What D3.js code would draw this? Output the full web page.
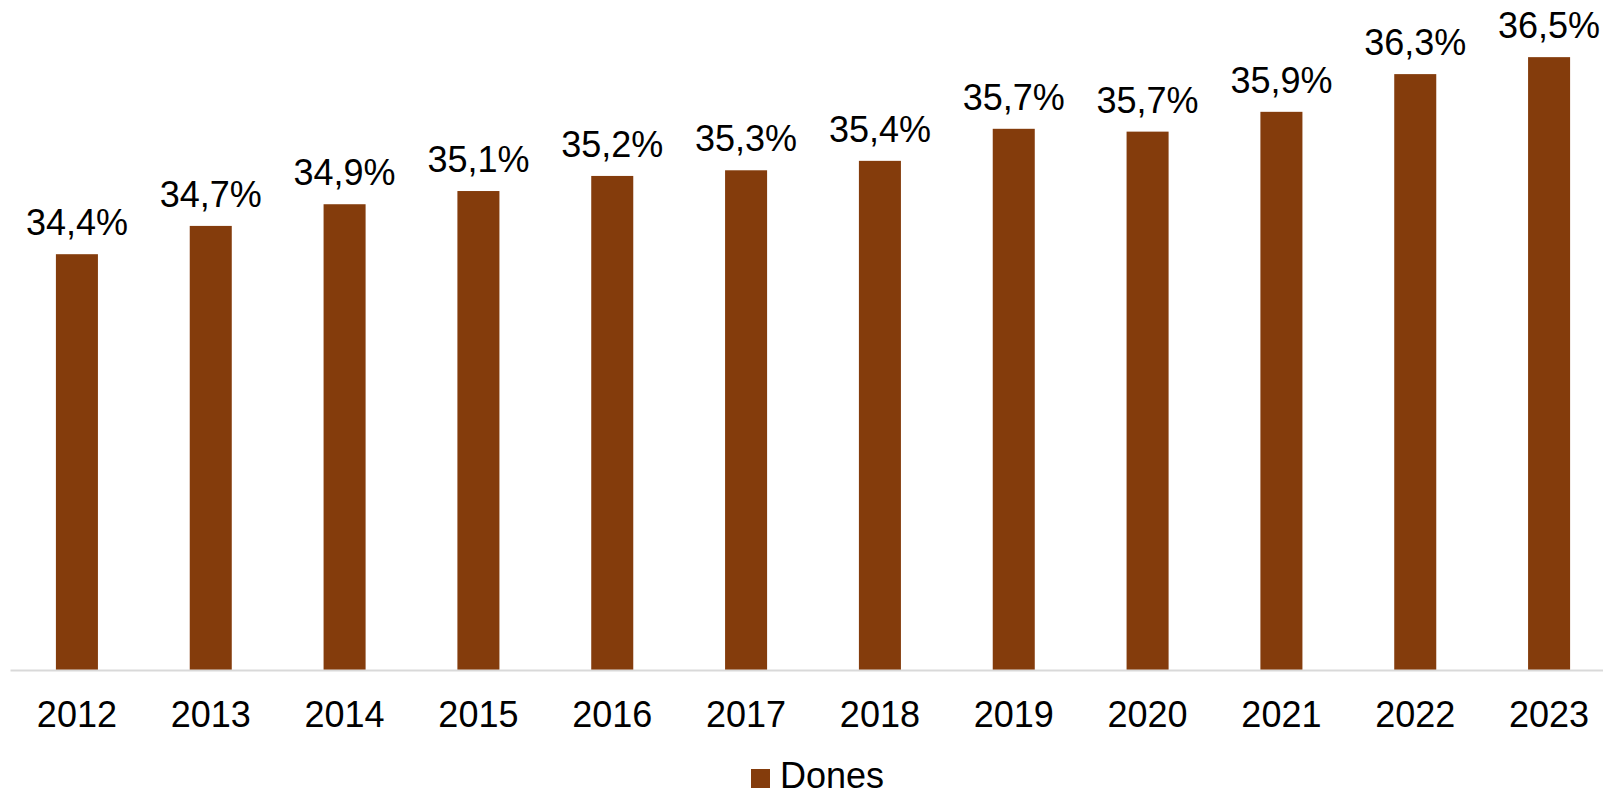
<!DOCTYPE html>
<html>
<head>
<meta charset="utf-8">
<script src="https://cdn.jsdelivr.net/npm/d3@7"></script>
<style>
  html, body { margin: 0; padding: 0; background: #fff; overflow: hidden; }
  svg { display: block; }
  text { font-family: "Liberation Sans", Arial, sans-serif; fill: #000; }
</style>
</head>
<body>
<svg id="chart" width="1603" height="795"></svg>
<script>
const years = ["2012","2013","2014","2015","2016","2017","2018","2019","2020","2021","2022","2023"];
const values = [34.41, 34.71, 34.94, 35.08, 35.24, 35.30, 35.40, 35.74, 35.71, 35.92, 36.32, 36.50];
const labels = ["34,4%","34,7%","34,9%","35,1%","35,2%","35,3%","35,4%","35,7%","35,7%","35,9%","36,3%","36,5%"];
const seriesName = "Dones";
const yDomain = [30, 37];

const barColor = "#843C0C";
const svg = d3.select("#chart");

const plot = { left: 10, right: 1616, top: 10, bottom: 670 };

const x = d3.scaleBand()
  .domain(years)
  .range([plot.left, plot.right])
  .paddingInner(0.686)
  .paddingOuter(0.343);

const y = d3.scaleLinear()
  .domain(yDomain)
  .range([plot.bottom, plot.top]);

const data = years.map((yr, i) => ({ year: yr, value: values[i], label: labels[i] }));

// bars
svg.append("g").selectAll("rect")
  .data(data)
  .join("rect")
  .attr("x", d => x(d.year))
  .attr("width", x.bandwidth())
  .attr("y", d => y(d.value))
  .attr("height", d => y(yDomain[0]) - y(d.value))
  .attr("fill", barColor);

// value labels
svg.append("g").selectAll("text")
  .data(data)
  .join("text")
  .attr("x", d => x(d.year) + x.bandwidth() / 2)
  .attr("y", d => y(d.value) - 19)
  .attr("text-anchor", "middle")
  .style("font-size", "36px")
  .text(d => d.label);

// x axis
const xAxis = svg.append("g")
  .attr("transform", `translate(0,${plot.bottom})`)
  .call(d3.axisBottom(x).tickSize(0).tickPadding(0));
xAxis.select(".domain").attr("stroke", "#d9d9d9").attr("stroke-width", 2);
xAxis.selectAll(".tick text")
  .attr("dy", null)
  .attr("y", 57)
  .style("font-size", "36px")
  .style("font-family", "'Liberation Sans', Arial, sans-serif")
  .attr("fill", "#000");

// legend
const legend = svg.append("g").attr("transform", "translate(751,769)");
legend.append("rect").attr("width", 19).attr("height", 19).attr("fill", barColor);
legend.append("text").attr("x", 29).attr("y", 19).style("font-size", "36px").text(seriesName);
</script>
</body>
</html>
